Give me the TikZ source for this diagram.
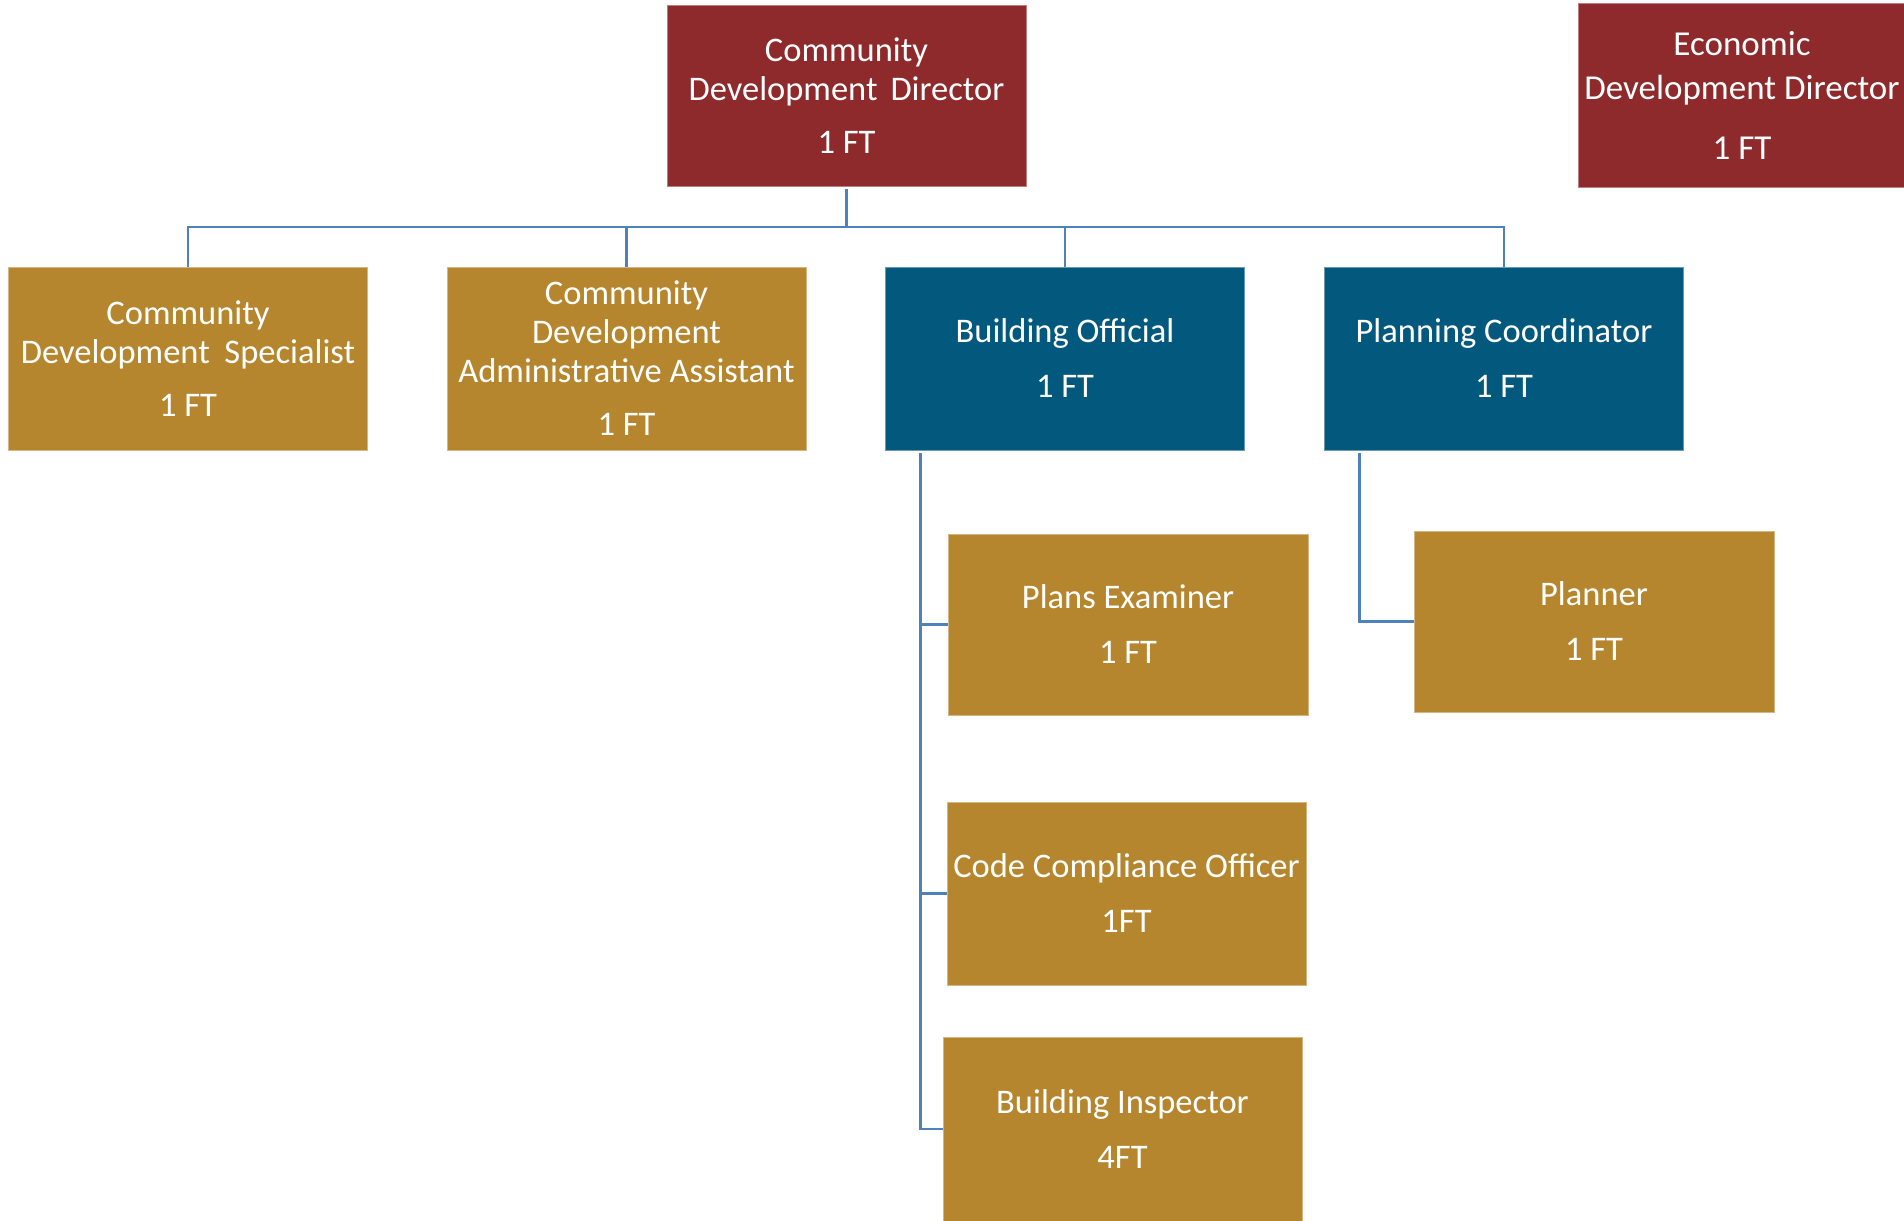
\documentclass[tikz,border=0pt]{standalone}
\usepackage{fontspec}
\setmainfont{Carlito}
\definecolor{dred}{RGB}{142,42,43}
\definecolor{gold}{RGB}{181,134,46}
\definecolor{dblue}{RGB}{3,88,126}
\definecolor{conn}{RGB}{79,129,189}
\tikzset{
  box/.style={rectangle, minimum width=359pt, minimum height=182pt, inner sep=0pt,
    text=white, align=center, line width=0.8pt,
    font=\fontsize{34.5}{39}\selectfont},
  redbox/.style={box, fill=dred, draw=dred!60!white},
  goldbox/.style={box, fill=gold, draw=gold!60!white},
  bluebox/.style={box, fill=dblue, draw=dblue!60!white},
  connline/.style={draw=conn, line width=2.8pt}
}
\begin{document}
\begin{tikzpicture}[x=1pt,y=-1pt]
\useasboundingbox (0,0) rectangle (1904,1221);
\node[redbox, minimum height=181pt] (cdd) at (846.5,95.5) {Community\\Development\hspace{0.15em} Director\\[14pt]1 FT};
\node[redbox, minimum width=328pt, minimum height=184pt, font=\fontsize{35}{44}\selectfont] (edd) at (1742,95.5) {Economic\\Development Director\\[16pt]1 FT};
\node[goldbox, minimum height=183pt] (cds) at (188,358.5) {Community\\Development\hspace{0.2em} Specialist\\[14pt]1 FT};
\node[goldbox, minimum height=183pt] (cdaa) at (626.5,358.5) {Community\\Development\\Administrative Assistant\\[14pt]1 FT};
\node[bluebox, minimum height=183pt] (bo) at (1065,358.5) {Building Official\\[16pt]1 FT};
\node[bluebox, minimum height=183pt] (pc) at (1504,358.5) {Planning Coordinator\\[16pt]1 FT};
\node[goldbox, minimum width=360pt, minimum height=181pt] (pe) at (1128,624.5) {Plans Examiner\\[16pt]1 FT};
\node[goldbox, minimum width=360pt, minimum height=181pt] (pl) at (1594,621.5) {Planner\\[16pt]1 FT};
\node[goldbox, minimum height=183pt] (cco) at (1126.5,893.5) {Code Compliance Officer\\[16pt]1FT};
\node[goldbox, minimum height=184pt] (bi) at (1122.5,1129) {Building Inspector\\[16pt]4FT};

\coordinate (bus) at (0,227);
\draw[connline] ([yshift=-3pt]cdd.south) -- (cdd.south |- bus);
\draw[connline] (cds.north) |- (pc.north |- bus) -- (pc.north);
\draw[connline] (cdaa.north) -- (cdaa.north |- bus);
\draw[connline] (bo.north) -- (bo.north |- bus);

\coordinate (bosp) at ([xshift=35pt,yshift=-3pt]bo.south west);
\draw[connline] (bosp) -- (bosp |- bi.west) -- (bi.west);
\draw[connline] (bosp |- pe.west) -- (pe.west);
\draw[connline] (bosp |- cco.west) -- (cco.west);

\coordinate (pcsp) at ([xshift=35pt,yshift=-3pt]pc.south west);
\draw[connline] (pcsp) |- (pl.west);
\end{tikzpicture}
\end{document}
